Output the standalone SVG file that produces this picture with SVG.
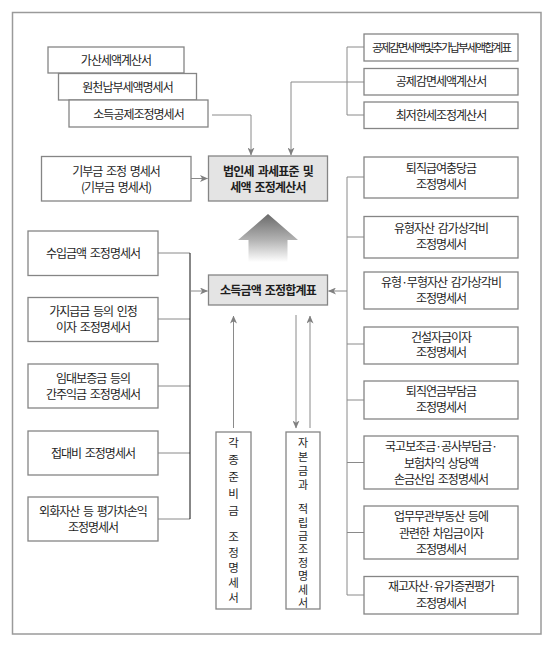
<svg xmlns="http://www.w3.org/2000/svg" width="552" height="650" viewBox="0 0 552 650" xml:space="preserve">
<defs>
<style>
.box{fill:#fff;stroke:#858585;stroke-width:1.3}
.key{fill:#e4e4e4;stroke:#858585;stroke-width:1.3}
.t{font-family:"Noto Sans CJK KR","Noto Sans",sans-serif;font-size:12px;fill:#1e1e1e;text-anchor:middle;letter-spacing:-1px;word-spacing:2px}
.b{font-weight:bold;font-size:12px;letter-spacing:-0.8px}
.v{font-family:"Noto Sans CJK KR","Noto Sans",sans-serif;fill:#1e1e1e;writing-mode:vertical-rl;text-orientation:upright}
.ln{fill:none;stroke:#8a8a8a;stroke-width:1}
.blk{fill:none;stroke:#111;stroke-width:1}
</style>
<marker id="ah" markerWidth="8" markerHeight="7" refX="7.5" refY="3.5" orient="auto" markerUnits="userSpaceOnUse">
<path d="M0,0 L8,3.5 L0,7 L2.2,3.5 z" fill="#808080"/>
</marker>
<linearGradient id="g" x1="0" y1="0" x2="0" y2="1">
<stop offset="0" stop-color="#6a6a6a"/>
<stop offset="0.55" stop-color="#b4b4b4"/>
<stop offset="1" stop-color="#ffffff"/>
</linearGradient>
</defs>
<rect x="0" y="0" width="552" height="650" fill="#fff"/>
<rect x="12.5" y="12.5" width="528.5" height="621.5" fill="none" stroke="#9a9a9a" stroke-width="1.5"/>

<g id="connectors">
<path class="ln" d="M212,115 H251 V155" marker-end="url(#ah)"/>
<path class="ln" d="M364,47 H347 V115 H364"/>
<path class="ln" d="M364,82 H291 V155" marker-end="url(#ah)"/>
<path class="ln" d="M191,178.5 H207.5" marker-end="url(#ah)"/>
<path class="ln" d="M158,253 H190 M158,319 H190 M158,386 H190 M158,453 H190 M158,519 H190"/>
<path class="blk" d="M190,253 V519"/>
<path class="ln" d="M190,291 H207.5" marker-end="url(#ah)"/>
<path class="ln" d="M347,177 V595 M347,177 H364 M347,237 H364 M347,344 H364 M347,400 H364 M347,462.5 H364 M347,532.5 H364 M347,595 H364"/>
<path class="ln" d="M347,291 H328.5" marker-end="url(#ah)"/>
<path class="ln" d="M233.5,428 V316" marker-end="url(#ah)"/>
<path class="ln" d="M296,315 V428" marker-end="url(#ah)"/>
<path class="ln" d="M310,428 V316" marker-end="url(#ah)"/>
</g>

<g id="bigarrow">
<path d="M268,214 L298,240 L287.5,240 L287.5,262 L248.5,262 L248.5,240 L238,240 Z" fill="url(#g)"/>
</g>

<g id="n-gasan"><rect class="box" x="48" y="47" width="136" height="26"/><text class="t" x="116" y="64.5">가산세액계산서</text></g>
<g id="n-wonchun"><rect class="box" x="58.5" y="73.5" width="138" height="26.5"/><text class="t" x="127.5" y="91.5">원천납부세액명세서</text></g>
<g id="n-sodeuk-gongje"><rect class="box" x="69" y="100" width="139" height="27"/><text class="t" x="138.5" y="118.5">소득공제조정명세서</text></g>

<g id="n-gongje-hap"><rect class="box" x="364" y="34" width="154" height="27"/><text class="t" x="441" y="52" style="font-size:11.5px;letter-spacing:-1.95px">공제감면세액및추가납부세액합계표</text></g>
<g id="n-gongje-gyesan"><rect class="box" x="364" y="68.5" width="154" height="26.5"/><text class="t" x="441" y="86">공제감면세액계산서</text></g>
<g id="n-choejeo"><rect class="box" x="364" y="102" width="154" height="26.5"/><text class="t" x="441" y="119.5">최저한세조정계산서</text></g>

<g id="n-beobin"><rect class="key" x="208.5" y="156" width="119" height="45"/><text class="t b" x="268" y="175.5">법인세  과세표준  및</text><text class="t b" x="268" y="191.5">세액  조정계산서</text></g>
<g id="n-gibu"><rect class="box" x="41.5" y="156.5" width="149.5" height="44.5"/><text class="t" x="116" y="175.5">기부금  조정  명세서</text><text class="t" x="116" y="191.5">(기부금  명세서)</text></g>

<g id="n-sodeuk-hap"><rect class="key" x="208.5" y="275" width="119" height="30"/><text class="t b" x="268" y="294.5">소득금액  조정합계표</text></g>

<g id="n-suip"><rect class="box" x="28" y="231" width="130" height="44.5"/><text class="t" x="93" y="257.5">수입금액  조정명세서</text></g>
<g id="n-gaji"><rect class="box" x="28" y="297.5" width="130" height="44"/><text class="t" x="93" y="316">가지급금  등의  인정</text><text class="t" x="93" y="332">이자  조정명세서</text></g>
<g id="n-imdae"><rect class="box" x="28" y="364" width="130" height="44"/><text class="t" x="93" y="382.5">임대보증금  등의</text><text class="t" x="93" y="399">간주익금  조정명세서</text></g>
<g id="n-jeopdae"><rect class="box" x="28" y="431" width="130" height="44"/><text class="t" x="93" y="457.5">접대비  조정명세서</text></g>
<g id="n-oehwa"><rect class="box" x="28" y="497" width="130" height="44"/><text class="t" x="93" y="515.5">외화자산 등 평가차손익</text><text class="t" x="93" y="532">조정명세서</text></g>

<g id="n-toejik"><rect class="box" x="364" y="157" width="154" height="41"/><text class="t" x="441" y="173">퇴직급여충당금</text><text class="t" x="441" y="188.5">조정명세서</text></g>
<g id="n-yuhyeong"><rect class="box" x="364" y="216.5" width="154" height="41.5"/><text class="t" x="441" y="233">유형자산  감가상각비</text><text class="t" x="441" y="248.5">조정명세서</text></g>
<g id="n-yumu"><rect class="box" x="364" y="272" width="154" height="37"/><text class="t" x="441" y="287">유형·무형자산  감가상각비</text><text class="t" x="441" y="302.5">조정명세서</text></g>
<g id="n-geonseol"><rect class="box" x="364" y="327" width="154" height="37"/><text class="t" x="441" y="341.5">건설자금이자</text><text class="t" x="441" y="357">조정명세서</text></g>
<g id="n-yeongeum"><rect class="box" x="364" y="381" width="154" height="38"/><text class="t" x="441" y="396">퇴직연금부담금</text><text class="t" x="441" y="412">조정명세서</text></g>
<g id="n-gukgo"><rect class="box" x="364" y="436" width="154" height="53"/><text class="t" x="441" y="451">국고보조금·공사부담금·</text><text class="t" x="441" y="467.5">보험차익  상당액</text><text class="t" x="441" y="484">손금산입  조정명세서</text></g>
<g id="n-eopmu"><rect class="box" x="364" y="506" width="154" height="53"/><text class="t" x="441" y="521">업무무관부동산  등에</text><text class="t" x="441" y="537.5">관련한  차입금이자</text><text class="t" x="441" y="554">조정명세서</text></g>
<g id="n-jaego"><rect class="box" x="364" y="576.5" width="154" height="37.5"/><text class="t" x="441" y="591">재고자산·유가증권평가</text><text class="t" x="441" y="607.5">조정명세서</text></g>

<g id="n-gakjong"><rect class="box" x="216" y="432" width="35" height="177"/>
<text class="v" x="233.5" y="437.25" style="font-size:11.5px;letter-spacing:5.5px">각종준비금</text>
<text class="v" x="233.5" y="531.25" style="font-size:11.5px;letter-spacing:3.75px">조정명세서</text></g>
<g id="n-jabon"><rect class="box" x="286" y="432" width="34" height="177"/>
<text class="v" x="303" y="437.5" style="font-size:11px;letter-spacing:3px">자본금과</text>
<text class="v" x="303" y="503.5" style="font-size:11px;letter-spacing:2.4px">적립금조정명세서</text></g>
</svg>
